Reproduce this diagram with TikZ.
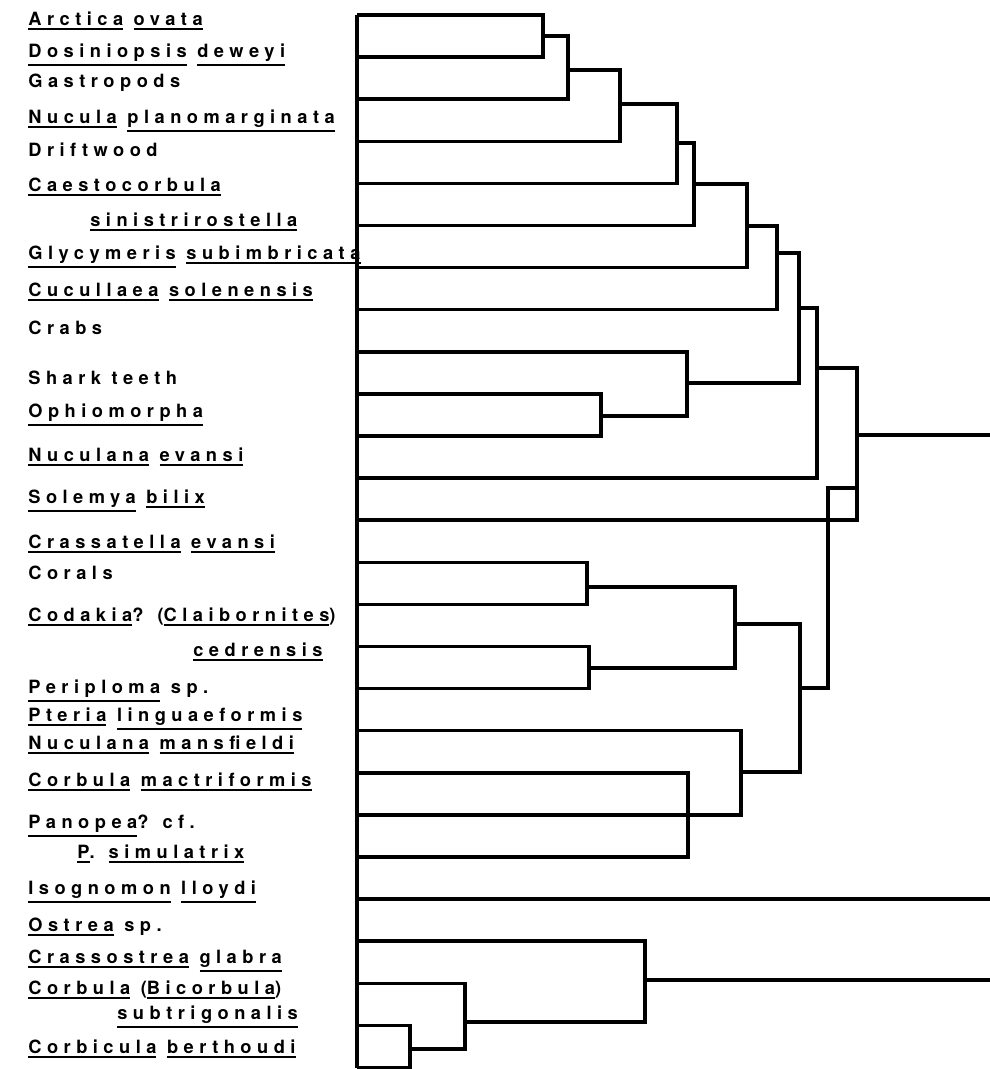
\documentclass[tikz,border=0pt]{standalone}
\usepackage{fontspec}
\newfontfamily\labfont[LetterSpace=30]{TeX Gyre Heros}
\newcommand\ulw[1]{\vtop{\hbox{#1}\kern1.6pt\hrule height 1.3pt}}

\begin{document}
\begin{tikzpicture}[
    x=0.02cm, y=-0.02cm,
    taxon/.style={anchor=base west, inner sep=0pt, font=\labfont\bfseries\fontsize{10.4}{12}\selectfont},
    link/.style={line width=2pt}
  ]
    \useasboundingbox (0,0) rectangle (990,1069);

    % taxa
    \node[taxon] (arctica) at (28,25) {\ulw{Arctica} \ulw{ovata}};
    \node[taxon] (dosiniopsis) at (28,57) {\ulw{Dosiniopsis} \ulw{deweyi}};
    \node[taxon] (gastropods) at (28,87) {Gastropods};
    \node[taxon] (nucula) at (28,123) {\ulw{Nucula} \ulw{planomarginata}};
    \node[taxon] (driftwood) at (28,156) {Driftwood};
    \node[taxon] (caesto) at (28,191) {\ulw{Caestocorbula}};
    \node[taxon] (caesto2) at (90,226) {\ulw{sinistrirostella}};
    \node[taxon] (glycymeris) at (28,259) {\ulw{Glycymeris} \ulw{subimbricata}};
    \node[taxon] (cucullaea) at (28,296) {\ulw{Cucullaea} \ulw{solenensis}};
    \node[taxon] (crabs) at (28,334) {Crabs};
    \node[taxon] (shark) at (28,384) {Shark teeth};
    \node[taxon] (ophio) at (28,417) {\ulw{Ophiomorpha}};
    \node[taxon] (nuculanaE) at (28,461) {\ulw{Nuculana} \ulw{evansi}};
    \node[taxon] (solemya) at (28,503) {\ulw{Solemya} \ulw{bilix}};
    \node[taxon] (crassatella) at (28,548) {\ulw{Crassatella} \ulw{evansi}};
    \node[taxon] (corals) at (28,579) {Corals};
    \node[taxon] (codakia) at (28,621) {\ulw{Codakia}? (\ulw{Claibornites})};
    \node[taxon] (codakia2) at (193,656) {\ulw{cedrensis}};
    \node[taxon] (periploma) at (28,693) {\ulw{Periploma} sp.};
    \node[taxon] (pteria) at (28,721) {\ulw{Pteria} \ulw{linguaeformis}};
    \node[taxon] (nuculanaM) at (28,749) {\ulw{Nuculana} \ulw{mansfieldi}};
    \node[taxon] (corbulaM) at (28,786) {\ulw{Corbula} \ulw{mactriformis}};
    \node[taxon] (panopea) at (28,828) {\ulw{Panopea}? cf.};
    \node[taxon] (panopea2) at (77,858) {\ulw{P}. \ulw{simulatrix}};
    \node[taxon] (isognomon) at (28,894) {\ulw{Isognomon} \ulw{lloydi}};
    \node[taxon] (ostrea) at (28,931) {\ulw{Ostrea} sp.};
    \node[taxon] (crassostrea) at (28,963) {\ulw{Crassostrea} \ulw{glabra}};
    \node[taxon] (bicorbula) at (28,994) {\ulw{Corbula} (\ulw{Bicorbula})};
    \node[taxon] (bicorbula2) at (117,1019) {\ulw{subtrigonalis}};
    \node[taxon] (corbicula) at (28,1053) {\ulw{Corbicula} \ulw{berthoudi}};

    % leaves and joins
    \foreach \i in {1,...,26}
      \coordinate (l\i) at (357,{15+(\i-1)*42.1});
    \coordinate (j1) at (543,36);
    \coordinate (j2) at (568,70);
    \coordinate (j3) at (620,104);
    \coordinate (j4) at (677,143);
    \coordinate (j5) at (694,184);
    \coordinate (j6) at (747,226);
    \coordinate (j7) at (777,253);
    \coordinate (j8) at (799,308);
    \coordinate (j9) at (817,368);
    \coordinate (k1) at (601,416);
    \coordinate (k2) at (687,383);
    \coordinate (m1) at (587,587);
    \coordinate (m2) at (589,668);
    \coordinate (m3) at (735,624);
    \coordinate (m4) at (800,688);
    \coordinate (m5) at (828,488);
    \coordinate (n1) at (688,817);
    \coordinate (n2) at (741,772);
    \coordinate (p1) at (410,1049);
    \coordinate (p2) at (465,1022);
    \coordinate (p3) at (645,980);
    \coordinate (root) at (857,435);
    \coordinate (edge) at (990,435);

    \draw[link] (l1) -- (l26);
    \draw[link] (l1) -| (j1) |- (l2);
    \draw[link] (j1) -| (j2) |- (l3);
    \draw[link] (j2) -| (j3) |- (l4);
    \draw[link] (j3) -| (j4) |- (l5);
    \draw[link] (j4) -| (j5) |- (l6);
    \draw[link] (j5) -| (j6) |- (l7);
    \draw[link] (j6) -| (j7) |- (l8);
    \draw[link] (l10) -| (k1) |- (l11);
    \draw[link] (l9) -| (k2) |- (k1);
    \draw[link] (j7) -| (j8) |- (k2);
    \draw[link] (j8) -| (j9) |- (l12);
    \draw[link] (j9) -| (root) |- (l13);
    \draw[link] (root) -- (edge);
    \draw[link] (l14) -| (m1) |- (l15);
    \draw[link] (l16) -| (m2) |- (l17);
    \draw[link] (m1) -| (m3) |- (m2);
    \draw[link] (l19) -| (n1) |- (l21);
    \draw[link] (l20) -| (n2) |- (l18);
    \draw[link] (m3) -| (m4) |- (n2);
    \draw[link] (m4) -| (m5) -- (m5 -| root);
    \draw[link] (l22) -- (l22 -| edge);
    \draw[link] (l25) -| (p1) |- (l26);
    \draw[link] (l24) -| (p2) |- (p1);
    \draw[link] (l23) -| (p3) |- (p2);
    \draw[link] (p3) -- (p3 -| edge);
  \end{tikzpicture}
\end{document}
